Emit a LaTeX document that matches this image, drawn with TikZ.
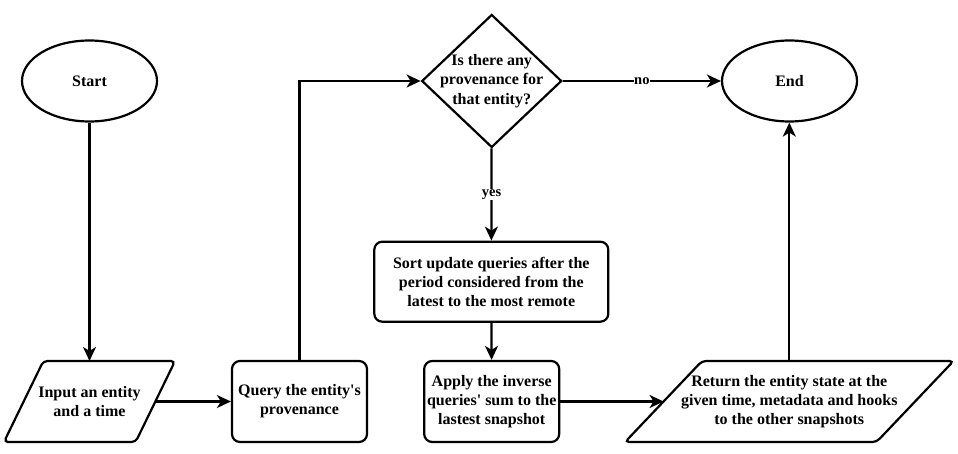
\documentclass[tikz,border=0pt]{standalone}
\usepackage{fontspec}
\setmainfont{Liberation Serif}
\usetikzlibrary{shapes.geometric, arrows.meta}
\begin{document}
\begin{tikzpicture}[x=1pt,y=-1pt,
  line width=2.2pt,
  base/.style={draw, line width=2.2pt, font=\fontsize{16}{19.2}\selectfont\bfseries, align=center, inner sep=0pt},
  term/.style={base, ellipse, minimum width=135pt, minimum height=81pt},
  procbox/.style={base, rectangle, rounded corners=8pt, minimum width=135pt, minimum height=81pt},
  decis/.style={draw, diamond, minimum width=140pt, minimum height=133pt, inner sep=0pt, line width=2.2pt},
  iobody/.style={base, draw=none, rectangle, minimum height=81pt, outer sep=0pt},
  txt/.style={font=\fontsize{16}{19.2}\selectfont\bfseries, align=center, inner sep=0pt},
  ioshape/.style={draw, rounded corners=4pt, line width=2.2pt},
  arr/.style={-{Stealth[length=14pt,width=13pt,inset=4pt]}, line width=2.2pt},
  lbl/.style={fill=white, font=\fontsize{14.5}{16}\selectfont\bfseries, inner sep=0.5pt}
]
\useasboundingbox (0,0) rectangle (958,454);

\node[term] (start) at (89.5,81) {Start};
\node[decis] (q) at (491.7,81) {};
\node[txt] (qtext) at (q) {Is there any\\provenance for\\that entity?};
\node[term] (stop) at (789.5,81) {End};

\node[procbox, minimum width=234pt, minimum height=80pt] (sort) at (491.3,281.7) {Sort update queries after the\\period considered from the\\latest to the most remote};

\node[iobody, minimum width=131.7pt] (inp) at (89.5,401.5) {Input an entity\\and a time};
\draw[ioshape] (inp.north) -- ([xshift=19.7pt]inp.north east) -- ([xshift=-19.7pt]inp.south east) -- ([xshift=-19.7pt]inp.south west) -- ([xshift=19.7pt]inp.north west) -- cycle;

\node[procbox] (query) at (299.5,401.5) {Query the entity\textquotesingle s\\provenance};
\node[procbox] (apply) at (491.7,401.5) {Apply the inverse\\queries\textquotesingle{} sum to the\\lastest snapshot};

\node[iobody, minimum width=251.5pt] (ret) at (789.3,401.5) {Return the entity state at the\\given time, metadata and hooks\\to the other snapshots};
\draw[ioshape] (ret.north) -- ([xshift=38.5pt]ret.north east) -- ([xshift=-38.5pt]ret.south east) -- ([xshift=-38.5pt]ret.south west) -- ([xshift=38.5pt]ret.north west) -- cycle;

\draw[arr] (start) -- (inp);
\draw[arr] (inp) -- (query);
\draw[arr] (query.north) |- (q.west);
\draw[arr] (q) -- node[lbl] {no} (stop);
\draw[arr] (q) -- node[lbl] {yes} (sort);
\draw[arr] (sort) -- (apply);
\draw[arr] (apply) -- (ret);
\draw[arr] (ret.north) -- (ret.north |- stop.south);
\end{tikzpicture}
\end{document}
